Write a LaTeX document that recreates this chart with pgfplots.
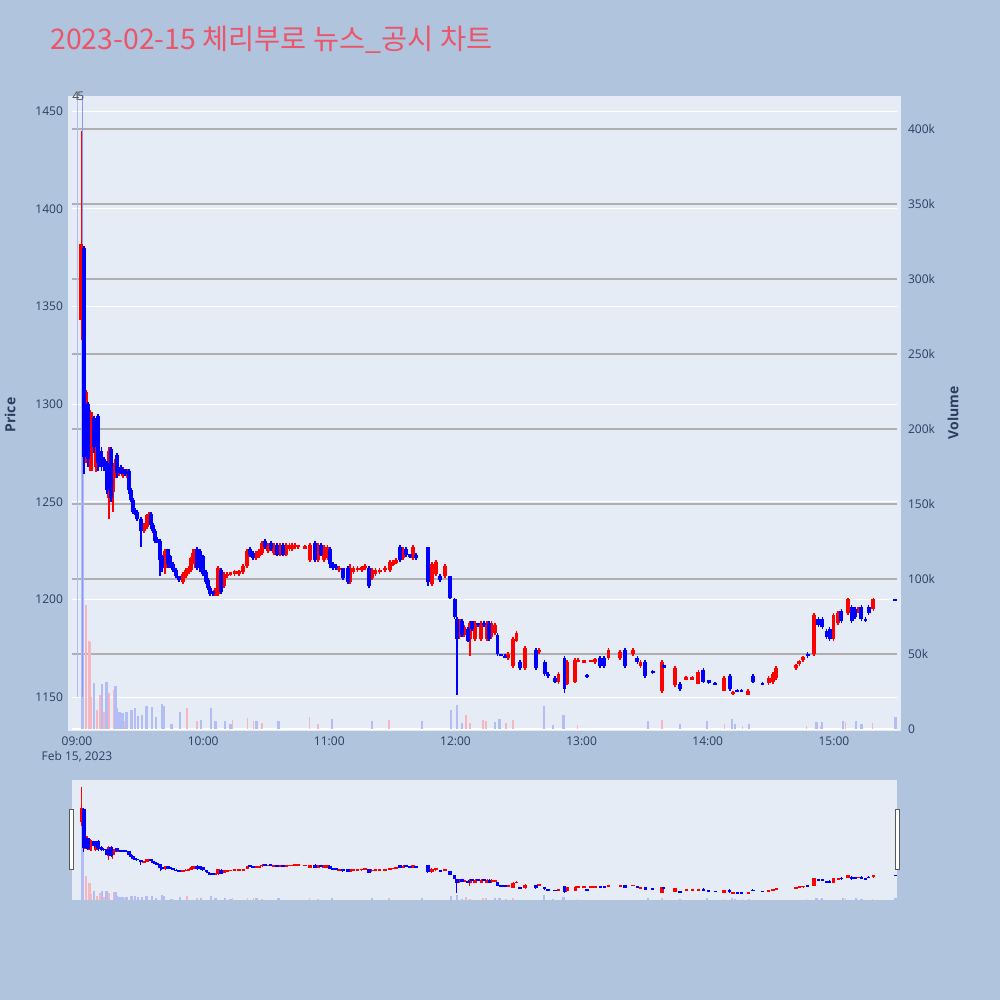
\documentclass[border=0pt]{standalone}
\usepackage{pgfplots}
\pgfplotsset{compat=1.18}
\usepackage{pgfplotstable}
\usepackage{fontspec}
\setmainfont{Open Sans}
\newfontfamily\kr{Noto Sans CJK KR}

\definecolor{pagebg}{HTML}{B0C4DE}
\definecolor{plotbg}{HTML}{E5ECF6}
\definecolor{txt}{HTML}{2A3F5F}
\definecolor{ttl}{RGB}{235,85,105}
\definecolor{volgrid}{RGB}{175,175,178}
\definecolor{volup}{RGB}{245,182,192}
\definecolor{voldn}{RGB}{178,188,245}
\definecolor{upc}{RGB}{255,0,0}
\definecolor{dnc}{RGB}{0,0,255}

% minutes after 09:00, open high low close
\pgfplotstableread{
t o h l c
2 1343 1440 1333 1382
4.3 1272 1307 1270 1306
6.2 1268 1297 1266 1296
7.1 1280 1296 1266 1290
9 1268 1291 1265 1289
15.2 1252 1278 1241 1276
17.1 1255 1270 1245 1268
18.1 1262 1272 1262 1270
20 1264 1268 1263 1267
21.9 1263 1268 1262 1267
23.8 1263 1267 1262 1266
31.9 1235 1239 1234 1238
33.3 1237 1244 1236 1243
34.2 1240 1245 1239 1244
41.9 1216 1226 1213 1225
50.4 1209 1214 1208 1213
51.8 1212 1216 1211 1215
53.2 1214 1217 1213 1216
54.2 1215 1222 1214 1221
55.2 1219 1226 1218 1224
56.1 1218 1226 1216 1225
65.6 1202 1206 1202 1205
67.1 1203 1217 1202 1216
69.9 1207 1214 1206 1213
71.4 1212 1214 1211 1213
73 1213 1214 1212 1213.5
75 1213 1215 1212 1214.5
77 1213 1215 1212 1214.5
79 1214 1218 1213 1217
80.9 1217 1226 1216 1225
85.2 1221 1225 1220 1224
86.6 1222 1226 1221 1225
88 1224 1230 1223 1229
90.8 1225 1229 1224 1228
93.7 1224 1229 1223 1228
96.6 1223 1229 1222 1228
99.4 1223 1229 1222 1228
100.9 1226 1229 1225 1228
102.3 1226 1229 1225 1227
103.7 1227 1229 1226 1228
105.1 1227 1228 1226 1228
108.4 1226 1228 1226 1227.5
110.8 1220 1229 1219 1228
114.6 1220 1229 1219 1228
117.5 1220 1228 1219 1227
119 1221 1228 1220 1227
124.6 1215 1217 1214 1216
129.8 1209 1218 1208 1216
131.5 1214 1217 1213 1216
133.5 1215 1217 1214 1216
135.5 1215 1217 1214 1216.5
137 1216 1218 1215 1217
140.3 1211 1216 1210 1215
142 1213 1216 1212 1215
144 1214 1216 1213 1215
146.5 1215 1217 1214 1216
148.9 1215 1220 1214 1219
150.3 1218 1220 1217 1219
151.7 1219 1221 1218 1220
155.1 1221 1227 1220 1226
159.8 1221 1228 1220 1227
168.8 1208 1219 1207 1218
170.7 1213 1220 1212 1219
175 1212 1218 1211 1217
181.9 1181 1190 1180 1190
184.1 1182 1187 1181 1186
186.9 1180 1189 1171 1188
189.3 1180 1189 1179 1188
192.2 1180 1189 1179 1188
195 1180 1189 1179 1188
197.1 1181 1189 1180 1188
198.8 1183 1188 1182 1187
205 1170 1173 1169 1172
207.4 1166 1181 1165 1180
209 1179 1184 1178 1183
213.1 1165 1176 1164 1175
219.7 1173 1175 1172 1174
229 1158 1163 1157 1162
233 1157 1169 1156 1168
236.9 1158 1170 1157 1169
238.3 1168 1170 1168 1169
241.1 1168 1169 1167.5 1168.5
244.5 1168 1169 1168 1169
246.4 1168 1170 1167 1169.5
252.8 1170 1175 1169 1174
258.3 1170 1174 1169 1173
264.4 1172 1175 1171 1174
268 1166 1169 1165 1168
278.2 1153 1169 1152 1168
284.4 1156 1166 1155 1165
289.7 1159 1161 1159 1160.5
292.6 1159 1161 1159 1160.5
295.5 1157 1164 1157 1163
307.7 1153 1161 1153 1160
312 1152 1153 1151 1152.5
319.2 1151 1154 1151 1153
329 1157 1161 1156 1160
331 1158 1163 1157 1162
332.5 1160 1166 1159 1165
342 1165 1167 1164 1166.5
343.5 1167 1169 1166 1168.5
345.3 1169 1171 1168 1170.5
350.5 1172 1193 1171 1192
359.8 1180 1193 1179 1192
362 1188 1194 1187 1193
366.7 1193 1201 1192 1200
371.5 1194 1196 1193 1195
378.7 1195 1201 1194 1200
}\upcandles

\pgfplotstableread{
t o h l c
3.3 1380 1381 1264 1273
5.2 1300 1301 1268 1272
8.1 1293 1294 1275 1278
10 1294 1295 1266 1270
11.5 1276 1278 1266 1268
12.8 1272 1273 1266 1268
14.3 1270 1271 1254 1256
16.2 1277 1278 1250 1252
19 1274 1275 1262 1265
20.9 1268 1269 1264 1264
22.8 1267 1267 1263 1264
24.7 1266 1267 1254 1256
25.7 1256 1257 1250 1251
26.6 1251 1252 1244 1245
27.6 1246 1247 1243 1244
28.5 1245 1246 1240 1241
30.4 1241 1242 1227 1235
35.2 1244 1245 1236 1238
36.1 1238 1239 1234 1235
37.1 1235 1236 1229 1230
38 1231 1232 1229 1230
39.5 1230 1231 1212 1220
40.4 1222 1223 1214 1216
43.3 1226 1226 1216 1218
44.2 1222 1223 1216 1217
45.7 1218 1219 1214 1215
47.1 1215 1216 1211 1212
48.5 1212 1212 1209 1210
57.1 1226 1227 1215 1216
58.5 1225 1226 1214 1218
59.9 1222 1223 1212 1213
61.4 1214 1215 1208 1209
62.3 1210 1211 1205 1206
63.3 1206 1207 1202 1203
64.7 1204 1204 1202 1203
68.5 1215 1216 1203 1204
82.3 1226 1227 1222 1223
83.7 1224 1225 1220 1221
89.4 1230 1231 1226 1227
92.2 1229 1230 1225 1226
95.1 1228 1229 1222 1223
98 1228 1229 1222 1223
113.2 1229 1230 1219 1220
116 1228 1229 1222 1223
120.3 1226 1227 1216 1218
121.8 1218 1219 1215 1216
123.2 1217 1218 1215 1216
126.5 1216 1216 1210 1211
128.9 1216 1217 1208 1209
138.9 1216 1217 1206 1207
153.6 1227 1228 1219 1220
156.5 1226 1227 1222 1223
158.4 1223 1223 1221 1222
161.2 1223 1224 1220 1221
166.9 1227 1227 1207 1209
172.7 1212 1213 1209 1210
177.4 1212 1212 1200 1201
179.6 1200 1201 1190 1191
180.7 1190 1191 1151 1180
183.1 1189 1190 1181 1182
186 1185 1186 1178 1179
187.9 1189 1189 1184 1185
190.7 1188 1188 1186 1187
193.6 1188 1189 1186 1187
196 1188 1189 1179 1180
200 1182 1183 1171 1172
201.7 1172 1172 1171 1171
203.6 1171 1172 1170 1170
210.7 1168 1169 1164 1165
218.3 1174 1175 1164 1165
222.4 1168 1169 1161 1162
224 1162 1163 1160 1161
227.3 1160 1161 1157 1158
231.9 1170 1171 1152 1154
242.6 1161.5 1162 1160 1160.5
248.8 1170 1171 1165 1166
250.7 1170 1171 1165 1166
260.6 1174 1175 1165 1166
266.5 1170 1171 1167 1168
270.2 1168 1169 1160 1161
273.8 1163 1164 1162 1162.5
279 1166 1167 1165 1165.5
286.8 1157 1158 1153 1154
297.8 1164 1165 1157 1158
300.5 1158.5 1159 1157 1157.5
303.5 1157 1158 1156 1156.5
310.5 1161 1162 1153 1154
314 1153.5 1154 1152.5 1153
316 1153.5 1154 1152.5 1153
321.5 1161 1162 1157 1158
326 1157 1158 1156 1156.5
347.5 1172 1173 1170 1171
352.5 1190 1191 1186 1187
354.5 1190 1191 1185 1186
356.5 1184 1185 1180 1181
358 1185 1186 1179 1180
363.5 1194 1195 1188 1189
368.5 1196 1197 1188 1189
370 1195 1196 1190 1191
373 1196 1197 1189 1190
375 1190 1191 1188.5 1189
376.5 1196 1197 1192 1193
389.2 1199.8 1200 1199.4 1199.5
}\dncandles

% volume in thousands
\pgfplotstableread{
t v
4.3 82.7
5.6 58.7
6.3 58
6.8 21.5
9.5 12.7
10.8 22.7
12.9 11.6
15.3 24
17.6 26
22.3 5
24 4
32.5 6
52.3 14
57 5
74 6
81 7
84 5
88 4
110.5 7.7
114.5 3
148.5 6
184.9 9
186.9 4
193 6
194.5 5
204 4
207.4 6
238 2.5
278.2 6
308 3
316.5 2
347 2
353.6 2
365.5 4.7
378.3 4
}\volupdata

\pgfplotstableread{
t v
2.6 292
8.1 30.7
11.8 30
13.9 31.6
18.4 28.7
18.9 14
20.3 11
21.7 10.7
23.4 11.6
25.9 12.7
27.5 14
29.1 8.7
30.9 9.3
33 15
35.7 14.7
37.6 8
40.5 16.7
41.3 15
45 3
49 11
59 6
63.8 14
65.8 5
70.4 5
73 3
85.3 5
95.7 5
121.3 6.7
140.3 5
164 5.3
177.9 12.7
180.8 16
183.1 4
198.8 4.7
200.8 6.7
222.1 15.3
226.4 2.7
231.5 9
271.6 5
286.8 3
299.6 5.3
311.6 6.7
313 3
319.6 3
351.6 4.7
354.4 4.7
364.3 5.3
370.5 5
373 3
389.4 8
}\voldndata

\pgfplotsset{
  candle/.style n args={2}{mark=none, draw=none, forget plot, line width=#2,
    error bars/.cd, y dir=both, y explicit, error mark=none,
    error bar style={draw=#1, line width=#2, line cap=butt}},
  frame/.style={scale only axis, width=412.5pt, xmin=-2.38, xmax=390,
    axis line style={draw=none}, tick style={draw=none},
    ticklabel style={font=\fontsize{6}{7.5}\selectfont, text=txt}},
}
\newcommand\candles[5]{%
  \addplot[candle={#2}{#4}] table[x=t, y expr={(\thisrow{h}+\thisrow{l})/2},
    y error expr={(\thisrow{h}-\thisrow{l})/2}] {#1};
  \addplot[candle={#2}{#3}] table[x=t, y expr={(\thisrow{o}+\thisrow{c})/2},
    y error expr={max(abs(\thisrow{c}-\thisrow{o})/2,#5)}] {#1};
}

\begin{document}
\begin{tikzpicture}
\useasboundingbox (0,0) rectangle (500pt,500pt);
\fill[pagebg] (0,0) rectangle (500pt,500pt);
\fill[plotbg] (34pt,134.5pt) rectangle (450.5pt,452pt);
\fill[plotbg] (36pt,50pt) rectangle (448.5pt,110pt);

% price axis: grid and ticks
\begin{axis}[frame, at={(36pt,135pt)}, anchor=south west, height=317pt,
  ymin=1133.2, ymax=1457.7,
  ytick={1150,1200,...,1450}, yticklabels={1150,1200,1250,1300,1350,1400,1450},
  ymajorgrids, grid style={white, line width=0.5pt},
  xtick={0,60,...,360},
  xticklabels={{09:00\\Feb 15, 2023},10:00,11:00,12:00,13:00,14:00,15:00},
  xticklabel style={align=center},
  yticklabel style={xshift=-1pt}]
\end{axis}

% volume axis
\begin{axis}[frame, at={(36pt,135pt)}, anchor=south west, height=317pt,
  ymin=-0.67, ymax=422, axis y line*=right, axis x line=none,
  ytick={50,100,...,400},
  yticklabels={50k,100k,150k,200k,250k,300k,350k,400k},
  extra y ticks={0}, extra y tick labels={0},
  extra y tick style={grid style={white, line width=1pt}},
  ymajorgrids, grid style={volgrid, line width=1pt},
  yticklabel style={xshift=2pt}, clip mode=individual]
  \addplot[ycomb, draw=volup, line width=0.8pt] table[x=t, y=v] {\volupdata};
  \addplot[ycomb, draw=voldn, line width=1.3pt] table[x=t, y=v] {\voldndata};
\end{axis}

% candles
\begin{axis}[frame, at={(36pt,135pt)}, anchor=south west, height=317pt,
  ymin=1133.2, ymax=1457.7, hide axis, clip mode=individual]
  \addplot[voldn, line width=0.6pt, forget plot] coordinates {(0.4,1150) (0.4,1460)};
  \addplot[voldn!80!blue, line width=0.5pt, forget plot] coordinates {(2.6,1150) (2.6,1460)};
  \candles{\upcandles}{upc}{1.9pt}{0.65pt}{0.6}
  \candles{\dncandles}{dnc}{1.9pt}{0.65pt}{0.6}
  \node[font=\fontsize{6}{7}\selectfont, text=black!70] at (axis cs:-0.6,1457.7) {4};
  \node[font=\fontsize{6}{7}\selectfont, text=black!70] at (axis cs:1.8,1457.7) {5};
\end{axis}

% range slider
\begin{axis}[frame, at={(36pt,50pt)}, anchor=south west, height=60pt,
  ymin=-0.67, ymax=422, hide axis]
  \addplot[ycomb, draw=volup, line width=0.8pt] table[x=t, y=v] {\volupdata};
  \addplot[ycomb, draw=voldn, line width=1.3pt] table[x=t, y=v] {\voldndata};
\end{axis}
\begin{axis}[frame, at={(36pt,50pt)}, anchor=south west, height=60pt,
  ymin=1133.2, ymax=1457.7, hide axis]
  \candles{\upcandles}{upc}{1.6pt}{0.5pt}{2}
  \candles{\dncandles}{dnc}{1.6pt}{0.5pt}{2}
\end{axis}
\filldraw[fill=white, draw=black!65, line width=0.5pt] (34.5pt,65pt) rectangle (36.5pt,95pt);
\filldraw[fill=white, draw=black!65, line width=0.5pt] (447.5pt,65pt) rectangle (449.5pt,95pt);

% titles
\node[anchor=west, inner sep=0pt, text=ttl, font=\kr\fontsize{14.2}{16}\selectfont] at (25pt,480pt)
  {2023-02-15 체리부로 뉴스\_공시 차트};
\node[rotate=90, text=txt, font=\bfseries\fontsize{7}{8}\selectfont] at (5pt,292.5pt) {Price};
\node[rotate=90, text=txt, font=\bfseries\fontsize{7}{8}\selectfont] at (476.5pt,293.5pt) {Volume};
\end{tikzpicture}
\end{document}
